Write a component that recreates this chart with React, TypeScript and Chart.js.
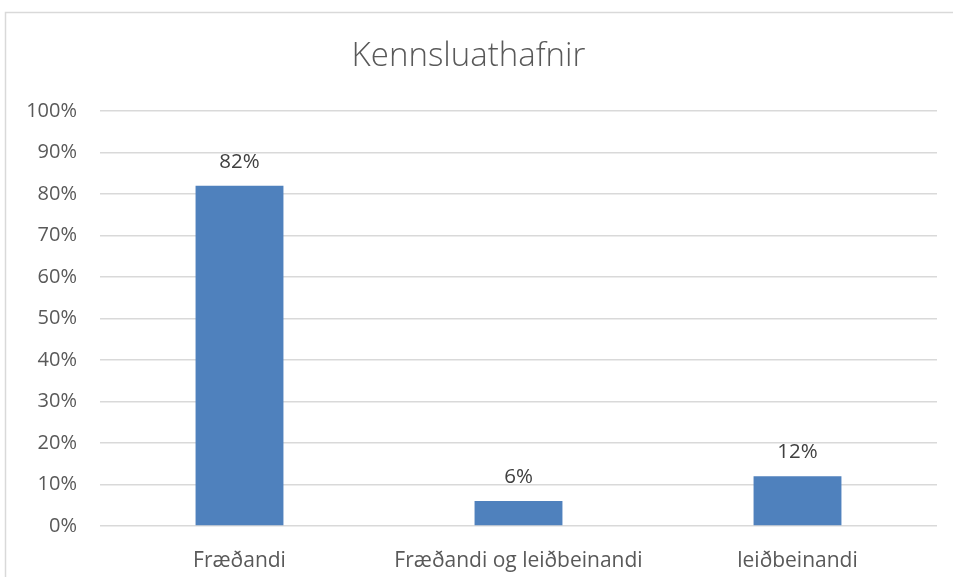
import React, { useEffect, useRef } from "react";
import { Chart, registerables } from "chart.js";

Chart.register(...registerables);

const categories = ["Fræðandi", "Fræðandi og leiðbeinandi", "leiðbeinandi"];
const values = [82, 6, 12];
const valueLabels = ["82%", "6%", "12%"];
const chartTitle = "Kennsluathafnir";

const FONT = "'Open Sans', Lato, sans-serif";

const frame = {
  id: "frame",
  beforeDraw(chart: any) {
    const { ctx } = chart;
    ctx.save();
    ctx.fillStyle = "#ffffff";
    ctx.fillRect(0, 0, chart.width, chart.height);
    ctx.strokeStyle = "#d9d9d9";
    ctx.lineWidth = 1.5;
    ctx.beginPath();
    ctx.moveTo(5.5, chart.height + 2);
    ctx.lineTo(5.5, 12.5);
    ctx.lineTo(chart.width + 2, 12.5);
    ctx.stroke();
    ctx.restore();
  },
};

const barLabels = {
  id: "barLabels",
  afterDatasetsDraw(chart: any) {
    const { ctx } = chart;
    const meta = chart.getDatasetMeta(0);
    ctx.save();
    ctx.font = `20.5px ${FONT}`;
    ctx.fillStyle = "#404040";
    ctx.textAlign = "center";
    ctx.textBaseline = "alphabetic";
    meta.data.forEach((bar: any, i: number) => {
      ctx.fillText(valueLabels[i], bar.x, bar.y - 18);
    });
    ctx.restore();
  },
};

export default function App() {
  const ref = useRef<HTMLCanvasElement | null>(null);
  useEffect(() => {
    if (!ref.current) return;
    const chart = new Chart(ref.current, {
      type: "bar",
      data: {
        labels: categories,
        datasets: [
          {
            data: values,
            backgroundColor: "#4f81bd",
            borderWidth: 0,
            barPercentage: 0.63,
            categoryPercentage: 0.5,
          },
        ],
      },
      options: {
        animation: false,
        responsive: false,
        maintainAspectRatio: false,
        layout: { padding: { left: 0, right: 16, top: 0, bottom: 0 } },
        plugins: {
          legend: { display: false },
          tooltip: { enabled: false },
          title: {
            display: true,
            text: chartTitle,
            color: "#595959",
            font: { family: FONT, size: 33, weight: "300" as any, lineHeight: 1.2 },
            padding: { top: 37, bottom: 34.4 },
          },
        },
        scales: {
          x: {
            grid: { display: false },
            border: { display: false },
            ticks: {
              color: "#595959",
              font: { family: FONT, size: 21 },
              padding: 14,
              maxRotation: 0,
            },
            afterFit(scale: any) {
              scale.height = 51;
            },
          },
          y: {
            min: 0,
            max: 100,
            grid: { color: "#d9d9d9", lineWidth: 1.5, drawTicks: false },
            border: { display: false },
            ticks: {
              stepSize: 10,
              color: "#595959",
              font: { family: FONT, size: 20 },
              padding: 23,
              callback: (v: any) => `${v}%`,
            },
            afterFit(scale: any) {
              scale.width = 100;
            },
          },
        },
      },
      plugins: [frame, barLabels],
    });
    return () => chart.destroy();
  }, []);
  return (
    <div style={{ position: "absolute", left: 0, top: 0, width: 953, height: 577 }}>
      <canvas ref={ref} width={953} height={577} style={{ display: "block" }} />
    </div>
  );
}
